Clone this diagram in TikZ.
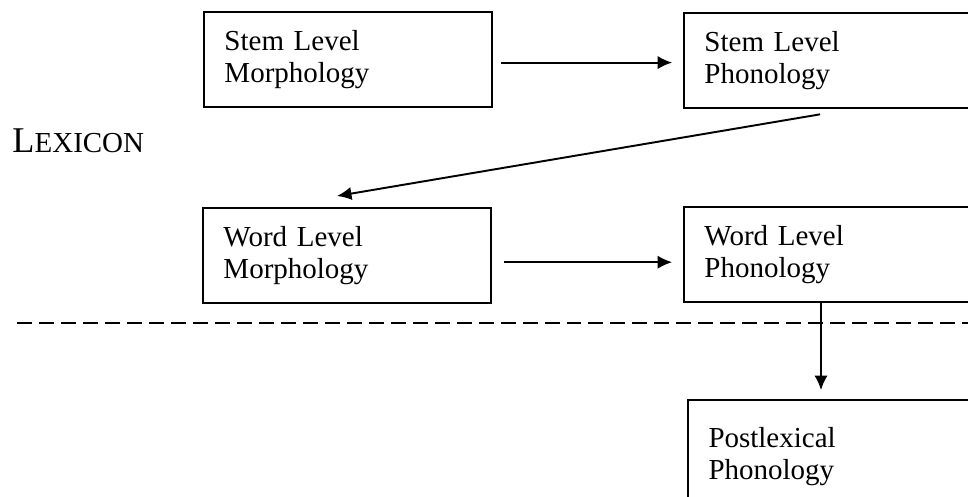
\documentclass[tikz,border=0pt]{standalone}
\usepackage{fontspec}
\setmainfont{Liberation Serif}
\usetikzlibrary{positioning,calc,arrows.meta}
\tikzset{>={Latex[length=6pt,width=5.5pt]}}

\begin{document}
\begin{tikzpicture}[x=0.414pt,y=-0.414pt,
                    levelbox/.style={draw,thick,anchor=north west,minimum width=119.2pt,minimum height=39.5pt,
                                     inner xsep=8.5pt,inner ysep=0pt,text width=102.2pt,align=left,
                                     font=\fontsize{12}{13.3}\selectfont},
                    divider/.style={thick,dash pattern=on 6.2pt off 2.9pt},
       ]
       \path[use as bounding box] (0,0) rectangle (968,497);
       \clip (0,0) rectangle (968,497);
       \node[levelbox] (stemmorph) at (203,11) {Stem Level\\Morphology};
       \node[levelbox] (stemphon) at (683,12) {Stem Level\\Phonology};
       \node[levelbox] (wordmorph) at (202,207) {Word Level\\Morphology};
       \node[levelbox] (wordphon) at (683,206) {Word Level\\Phonology};
       \node[levelbox,minimum height=47.2pt] (postlex) at (687,399) {Postlexical\\Phonology};
       \node[anchor=base west,inner sep=0pt] (lexicon) at (12,153)
            {\fontsize{15}{15}\selectfont L\fontsize{12}{12}\selectfont EXICON};
       \coordinate (divleft) at (17,323);
       \coordinate (divright) at (990,323);
       \coordinate (drop) at ($(wordphon.south west)+(138,0)$);
       \draw[divider] (divleft) -- (divright);
       \draw[->,thick,shorten <=3.3pt,shorten >=4.5pt]
            ([yshift=-1.2pt]stemmorph.east) -- ([yshift=-1.2pt]stemmorph.east -| stemphon.west);
       \draw[->,thick] ($(stemphon.south west)+(137,5)$) -- ($(wordmorph.north west)+(135,-11)$);
       \draw[->,thick,shorten <=5pt,shorten >=4.5pt]
            ([yshift=-2.7pt]wordmorph.east) -- ([yshift=-2.7pt]wordmorph.east -| wordphon.west);
       \draw[->,thick,shorten >=3.7pt] (drop) -- (drop |- postlex.north);
\end{tikzpicture}
\end{document}
